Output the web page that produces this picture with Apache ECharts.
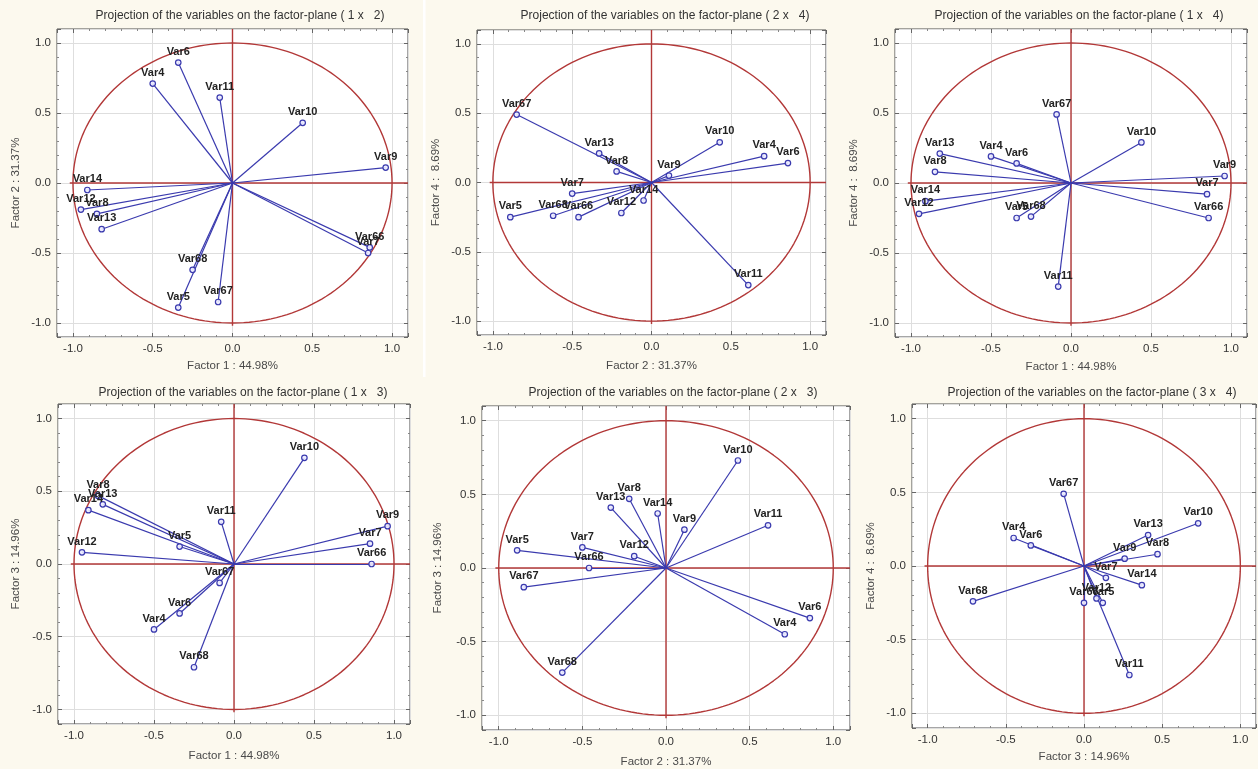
<!DOCTYPE html>
<html><head><meta charset="utf-8">
<script src="https://cdn.jsdelivr.net/npm/echarts@6/dist/echarts.min.js"></script>
<style>html,body{margin:0;padding:0;background:#fcf9ee;}#c{width:1258px;height:769px;}</style>
</head><body><div id="c"></div>
<script>
// ---- data: factor loadings of each variable ----
const variables = ['Var4','Var5','Var6','Var7','Var8','Var9','Var10','Var11','Var12','Var13','Var14','Var66','Var67','Var68'];
const factor1 = [-0.50,-0.34,-0.34, 0.85,-0.85, 0.96, 0.44,-0.08,-0.95,-0.82,-0.91, 0.86,-0.09,-0.25];
const factor2 = [ 0.71,-0.89, 0.86,-0.50,-0.22, 0.11, 0.43, 0.61,-0.19,-0.33,-0.05,-0.46,-0.85,-0.62];
const factor3 = [-0.45, 0.12,-0.34, 0.14, 0.47, 0.26, 0.73, 0.29, 0.08, 0.41, 0.37, 0.00,-0.13,-0.71];
const factor4 = [ 0.19,-0.25, 0.14,-0.08, 0.08, 0.05, 0.29,-0.74,-0.22, 0.21,-0.13,-0.25, 0.49,-0.24];
const factors = [factor1, factor2, factor3, factor4];
const factorNames = ['Factor 1 : 44.98%','Factor 2 : 31.37%','Factor 3 : 14.96%','Factor 4 :  8.69%'];
const panelPairs = [[1,2],[2,4],[1,4],[1,3],[2,3],[3,4]];

// ---- layout ----
const panels = [
  {left:57,  top:29,  width:351, height:308, tx:240,  ty:16,  xGap:23, yGap:35},
  {left:477, top:30,  width:349, height:305, tx:665,  ty:16,  xGap:25, yGap:35},
  {left:895, top:29,  width:352, height:308, tx:1079, ty:16,  xGap:24, yGap:35},
  {left:58,  top:404, width:352, height:320, tx:243,  ty:393, xGap:26, yGap:36},
  {left:482, top:406, width:368, height:325, tx:673,  ty:393, xGap:26, yGap:38},
  {left:912, top:404, width:344, height:324, tx:1092, ty:393, xGap:23, yGap:35}
];
const FONT = '"Liberation Sans", Arial, sans-serif';
const RED = '#b23838', BLUE = '#3a3aae';

const circle = [];
for (let a = 0; a <= 360; a += 2) {
  const r = a * Math.PI / 180;
  circle.push([Math.cos(r), Math.sin(r)]);
}

const grid = [], xAxis = [], yAxis = [], series = [], graphic = [];
graphic.push({type:'rect', shape:{x:423, y:0, width:2.5, height:377}, style:{fill:'#ffffff'}, z:-10});

function tickFmt(v){ return Math.abs(v) > 1.05 ? '' : v.toFixed(1); }

panelPairs.forEach((pair, i) => {
  const p = panels[i];
  const fx = factors[pair[0]-1], fy = factors[pair[1]-1];
  grid.push({left:p.left, top:p.top, width:p.width, height:p.height, show:true,
    backgroundColor:'#ffffff', borderColor:'#4d4d4d', borderWidth:1});
  const common = {type:'value', gridIndex:i, min:-1.1, max:1.1,
    axisLine:{show:false, onZero:false},
    axisTick:{show:true, inside:true, length:4, lineStyle:{color:'#666'}},
    minorTick:{show:true, splitNumber:5, length:2, lineStyle:{color:'#888'}},
    minorSplitLine:{show:false}};
  const nameStyle = {fontFamily:FONT, fontSize:11.5, color:'#4a4a4a'};
  const labelStyle = {showMinLabel:false, showMaxLabel:false, formatter:tickFmt, fontFamily:FONT, fontSize:11.5, color:'#333', margin:6};
  xAxis.push(Object.assign({}, common, {position:'bottom',
    name:factorNames[pair[0]-1], nameLocation:'middle', nameGap:p.xGap, nameTextStyle:nameStyle,
    splitLine:{show:true, lineStyle:{color:'#dedede', width:1}}, axisLabel:labelStyle}));
  yAxis.push(Object.assign({}, common, {position:'left',
    name:factorNames[pair[1]-1], nameLocation:'middle', nameGap:p.yGap, nameTextStyle:nameStyle,
    splitLine:{show:true, lineStyle:{color:'#dedede', width:1}}, axisLabel:labelStyle}));
  // top/right tick copies
  xAxis.push(Object.assign({}, common, {position:'top', splitLine:{show:false}, axisLabel:{show:false}}));
  yAxis.push(Object.assign({}, common, {position:'right', splitLine:{show:false}, axisLabel:{show:false}}));
  const xi = xAxis.length - 2, yi = yAxis.length - 2;

  series.push({type:'line', xAxisIndex:xi, yAxisIndex:yi, data:circle, showSymbol:false, silent:true,
    lineStyle:{color:RED, width:1.4}, z:2, animation:false});
  series.push({type:'line', xAxisIndex:xi, yAxisIndex:yi, data:[[-1.02,0],[1.1,0]], showSymbol:false, silent:true,
    lineStyle:{color:RED, width:1.4}, z:2, animation:false});
  series.push({type:'line', xAxisIndex:xi, yAxisIndex:yi, data:[[0,-1.02],[0,1.1]], showSymbol:false, silent:true,
    lineStyle:{color:RED, width:1.4}, z:2, animation:false});
  series.push({type:'lines', coordinateSystem:'cartesian2d', xAxisIndex:xi, yAxisIndex:yi, silent:true,
    data:variables.map((v,k)=>({coords:[[0,0],[fx[k],fy[k]]]})),
    lineStyle:{color:BLUE, width:1.2, opacity:1}, z:3, animation:false});
  series.push({type:'scatter', xAxisIndex:xi, yAxisIndex:yi, silent:true,
    data:variables.map((v,k)=>({name:v, value:[fx[k],fy[k]]})),
    symbol:'circle', symbolSize:5.5,
    itemStyle:{color:'rgba(235,235,255,0.9)', borderColor:BLUE, borderWidth:1.2, opacity:1},
    label:{show:true, position:'top', distance:2, formatter:'{b}', fontFamily:FONT, fontSize:11,
      fontWeight:'bold', color:'#222'},
    z:4, animation:false});
  graphic.push({type:'text', x:p.tx, y:p.ty, style:{text:'Projection of the variables on the factor-plane ( ' + pair[0] + ' x   ' + pair[1] + ')',
    textAlign:'center', textVerticalAlign:'middle', font:'12px ' + FONT, fill:'#333'}});
});

const chart = echarts.init(document.getElementById('c'), null, {renderer:'canvas'});
chart.setOption({backgroundColor:'#fcf9ee', animation:false, grid, xAxis, yAxis, series, graphic});
</script>
</body></html>
